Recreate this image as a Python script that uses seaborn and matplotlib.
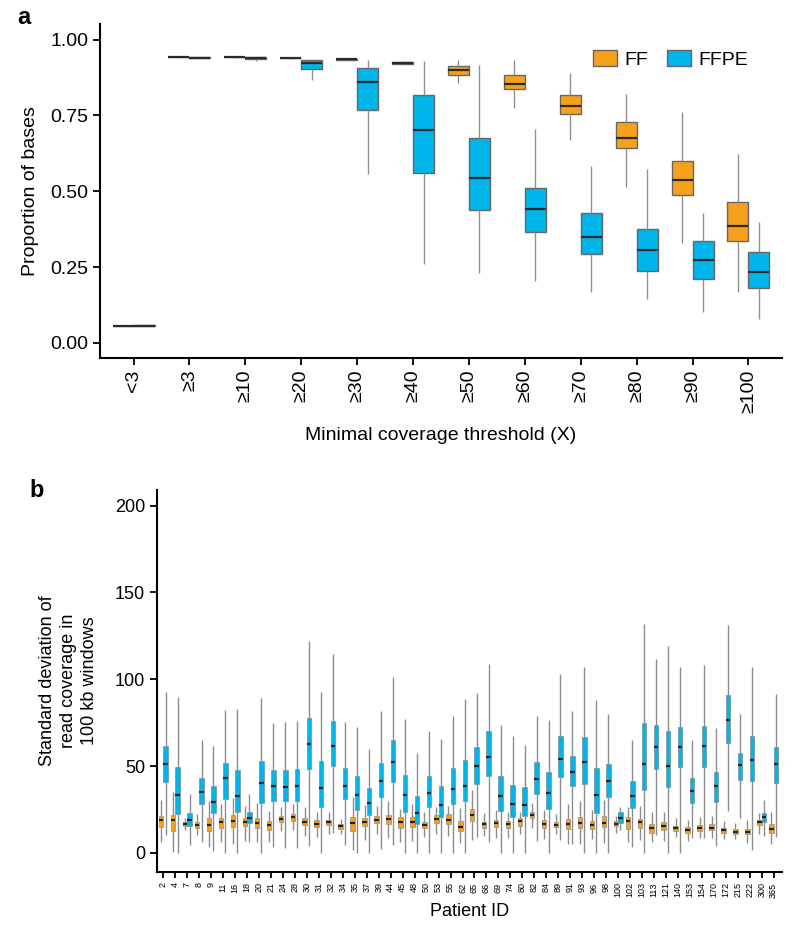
import pandas as pd
import seaborn as sns
import matplotlib.pyplot as plt

# panel a: proportion of bases above coverage threshold
# each box given as [whisker low, Q1, median, Q3, whisker high]
thresholds = ['<3', '≥3', '≥10', '≥20', '≥30', '≥40',
              '≥50', '≥60', '≥70', '≥80', '≥90', '≥100']
ff_a = [
    [0.054, 0.055, 0.055, 0.056, 0.056],
    [0.941, 0.942, 0.942, 0.943, 0.944],
    [0.940, 0.941, 0.941, 0.942, 0.943],
    [0.937, 0.938, 0.939, 0.940, 0.941],
    [0.932, 0.934, 0.935, 0.936, 0.938],
    [0.915, 0.920, 0.923, 0.925, 0.930],
    [0.856, 0.882, 0.898, 0.912, 0.933],
    [0.774, 0.837, 0.854, 0.882, 0.931],
    [0.670, 0.754, 0.782, 0.817, 0.889],
    [0.514, 0.642, 0.675, 0.728, 0.819],
    [0.329, 0.487, 0.538, 0.600, 0.761],
    [0.166, 0.336, 0.385, 0.464, 0.621],
]
ffpe_a = [
    [0.056, 0.057, 0.057, 0.058, 0.058],
    [0.938, 0.939, 0.940, 0.941, 0.942],
    [0.930, 0.935, 0.938, 0.941, 0.943],
    [0.868, 0.902, 0.924, 0.933, 0.936],
    [0.558, 0.766, 0.861, 0.905, 0.933],
    [0.261, 0.560, 0.703, 0.816, 0.929],
    [0.229, 0.439, 0.542, 0.676, 0.917],
    [0.204, 0.364, 0.442, 0.510, 0.704],
    [0.168, 0.294, 0.350, 0.428, 0.583],
    [0.143, 0.236, 0.307, 0.375, 0.572],
    [0.102, 0.209, 0.272, 0.336, 0.429],
    [0.077, 0.180, 0.233, 0.299, 0.399],
]

# panel b: SD of read coverage in 100 kb windows per patient
patient_ids = [2, 4, 7, 8, 9, 11, 16, 18, 20, 21, 24, 28, 30, 31, 32, 34, 35,
               37, 39, 44, 45, 48, 50, 53, 55, 62, 65, 66, 69, 74, 80, 82, 84,
               89, 91, 93, 96, 98, 100, 102, 103, 113, 121, 140, 153, 154, 170,
               172, 215, 222, 300, 365]
ff_b = [
    [6.5, 14.8, 18.7, 21.5, 30.6], [0.4, 12.7, 19.0, 21.9, 34.8],
    [13.3, 15.2, 16.7, 17.9, 20.0], [10.4, 14.6, 16.3, 17.7, 22.3],
    [3.3, 12.7, 16.3, 20.0, 30.0], [6.5, 14.2, 17.7, 20.0, 28.0],
    [5.0, 14.8, 18.3, 21.9, 31.5], [6.9, 15.2, 17.7, 20.0, 27.1],
    [6.5, 14.6, 17.3, 20.0, 28.7], [6.0, 13.3, 15.8, 18.1, 24.4],
    [12.7, 17.7, 19.4, 21.3, 26.2], [13.3, 18.1, 20.4, 22.3, 28.3],
    [9.8, 15.8, 17.7, 20.0, 26.2], [9.4, 14.8, 16.5, 18.7, 23.5],
    [10.8, 15.8, 17.5, 19.0, 23.3], [10.8, 13.8, 15.2, 16.5, 19.6],
    [1.7, 12.7, 17.1, 20.4, 31.9], [7.5, 15.2, 17.7, 20.0, 27.7],
    [10.8, 17.1, 19.0, 21.3, 27.1], [8.5, 16.5, 19.4, 21.9, 29.6],
    [6.0, 14.2, 17.5, 20.4, 25.4], [7.1, 14.8, 17.5, 20.4, 28.3],
    [9.0, 14.2, 16.2, 17.7, 23.3], [10.8, 17.1, 19.6, 21.9, 26.7],
    [9.8, 16.5, 19.0, 22.3, 27.1], [5.6, 12.7, 14.8, 18.1, 25.8],
    [7.5, 18.5, 21.9, 25.4, 36.0], [9.8, 14.6, 16.5, 17.7, 22.9],
    [8.5, 14.8, 17.1, 19.0, 24.8], [8.8, 14.6, 16.7, 18.5, 23.3],
    [11.0, 15.6, 18.1, 20.0, 23.5], [14.2, 20.0, 21.9, 23.8, 29.0],
    [7.9, 14.2, 16.5, 18.7, 24.8], [11.0, 14.8, 16.3, 17.7, 22.5],
    [5.0, 13.7, 16.5, 19.4, 28.3], [5.0, 14.2, 17.1, 20.4, 29.6],
    [7.9, 13.7, 16.2, 18.5, 24.8], [5.6, 14.8, 17.1, 21.3, 30.6],
    [11.7, 15.2, 16.7, 18.1, 21.3], [6.0, 13.7, 18.1, 20.4, 26.7],
    [7.5, 14.6, 17.5, 19.4, 27.1], [6.0, 11.7, 14.2, 16.7, 23.8],
    [6.9, 13.3, 15.6, 17.7, 23.5], [9.0, 12.7, 14.2, 15.6, 20.0],
    [6.9, 11.7, 13.3, 14.8, 18.7], [8.5, 12.7, 14.2, 15.8, 20.6],
    [8.5, 12.9, 14.6, 16.5, 21.3], [7.9, 11.7, 13.3, 14.6, 18.1],
    [7.9, 11.0, 12.3, 13.7, 17.1], [5.6, 10.8, 12.3, 13.8, 18.7],
    [10.8, 15.8, 17.5, 19.0, 22.9], [5.0, 11.7, 13.8, 16.5, 23.3],
]
ffpe_b = [
    [10.4, 40.8, 51.3, 61.3, 92.5], [0.0, 22.3, 33.1, 49.4, 89.8],
    [4.6, 15.6, 19.0, 23.0, 34.0], [6.5, 28.1, 35.2, 42.9, 64.8],
    [0.8, 22.9, 29.4, 38.7, 61.3], [0.2, 31.0, 42.9, 51.7, 82.5],
    [0.0, 23.3, 32.9, 47.5, 82.9], [6.0, 17.1, 20.2, 23.8, 34.0],
    [0.2, 29.0, 40.0, 53.1, 89.2], [3.3, 29.6, 38.3, 47.9, 74.8],
    [2.7, 29.6, 37.9, 47.9, 75.2], [2.7, 30.0, 38.8, 48.5, 75.8],
    [4.0, 48.3, 62.7, 77.7, 121.8], [0.2, 26.7, 37.3, 53.1, 92.4],
    [11.3, 49.8, 61.7, 75.8, 114.7], [4.6, 31.0, 38.8, 48.8, 75.4],
    [0.2, 24.8, 33.5, 44.0, 72.3], [0.2, 21.9, 28.7, 37.3, 60.0],
    [2.1, 31.9, 41.2, 51.7, 81.9], [4.6, 40.8, 52.1, 65.2, 101.4],
    [0.2, 23.5, 33.1, 45.0, 77.1], [0.2, 16.5, 22.9, 32.9, 57.5],
    [0.2, 26.2, 34.4, 44.0, 70.4], [0.2, 20.4, 27.7, 38.7, 65.6],
    [0.2, 28.3, 36.7, 48.8, 79.0], [0.2, 30.0, 38.8, 53.7, 88.8],
    [9.4, 39.8, 50.2, 60.8, 92.1], [6.0, 44.4, 55.0, 70.2, 108.5],
    [0.2, 24.4, 32.5, 44.4, 73.8], [0.2, 20.6, 28.1, 39.2, 67.1],
    [0.2, 21.0, 27.5, 37.7, 62.3], [7.1, 33.8, 42.7, 52.1, 78.7],
    [0.2, 25.4, 34.4, 46.3, 76.7], [7.5, 43.5, 54.0, 67.5, 103.3],
    [5.0, 38.3, 46.7, 55.6, 81.9], [0.2, 39.8, 52.3, 66.7, 107.1],
    [0.2, 22.9, 33.1, 48.8, 87.9], [0.2, 31.9, 41.2, 51.3, 80.2],
    [13.3, 17.1, 20.0, 23.3, 26.7], [3.3, 25.8, 32.9, 41.5, 64.8],
    [0.2, 36.3, 51.3, 74.8, 132.0], [10.4, 48.5, 60.8, 73.8, 111.8],
    [0.2, 37.7, 50.2, 70.4, 118.9], [0.2, 49.2, 60.8, 72.5, 106.8],
    [8.5, 28.7, 35.4, 43.1, 64.8], [8.8, 49.4, 61.7, 73.3, 108.4],
    [4.0, 29.2, 38.3, 46.5, 71.9], [24.2, 63.3, 76.7, 91.1, 131.4],
    [20.0, 42.1, 50.8, 57.5, 80.2], [1.7, 41.2, 53.7, 67.5, 107.0],
    [9.8, 17.5, 20.6, 22.9, 30.6], [9.4, 40.2, 51.3, 60.8, 91.5],
]

ORANGE = '#F5A11C'
BLUE = '#00B5E9'
palette = {'FF': ORANGE, 'FFPE': BLUE}


def to_long(labels, ff, ffpe, key):
    rows = []
    for lab, f, p in zip(labels, ff, ffpe):
        for v in f:
            rows.append((str(lab), 'FF', v))
        for v in p:
            rows.append((str(lab), 'FFPE', v))
    return pd.DataFrame(rows, columns=[key, 'sample', 'value'])


df_a = to_long(thresholds, ff_a, ffpe_a, 'threshold')
df_b = to_long(patient_ids, ff_b, ffpe_b, 'patient')

sns.set_style('ticks')
plt.rcParams['font.family'] = ['Liberation Sans', 'DejaVu Sans']
plt.rcParams['text.color'] = 'black'
plt.rcParams['axes.labelcolor'] = 'black'
plt.rcParams['xtick.color'] = 'black'
plt.rcParams['ytick.color'] = 'black'

fig = plt.figure(figsize=(8, 9.36), dpi=100)
ax_a = fig.add_axes([0.125, 0.6175, 0.8525, 0.3565])
ax_b = fig.add_axes([0.196, 0.0684, 0.7815, 0.4081])

box_kws = dict(hue='sample', palette=palette, saturation=1, width=0.75, gap=0,
               whis=(0, 100), showcaps=False, showfliers=False)

sns.boxplot(data=df_a, x='threshold', y='value', order=thresholds, ax=ax_a,
            linewidth=1.0,
            boxprops=dict(edgecolor='#666666', linewidth=1.0),
            whiskerprops=dict(color='#909090', linewidth=1.0),
            medianprops=dict(color='#2a2a2a', linewidth=1.6),
            **box_kws)

sns.boxplot(data=df_b, x='patient', y='value',
            order=[str(p) for p in patient_ids], ax=ax_b, legend=False,
            linewidth=0.8,
            boxprops=dict(edgecolor='#7a7a7a', linewidth=0.4),
            whiskerprops=dict(color='#8c8c8c', linewidth=1.0),
            medianprops=dict(color='#222222', linewidth=1.6),
            **box_kws)

# panel a styling
ax_a.set_xlim(-0.6, len(thresholds) - 0.4)
ax_a.set_ylim(-0.05, 1.05)
ax_a.set_yticks([0, 0.25, 0.5, 0.75, 1.0])
ax_a.set_yticklabels(['0.00', '0.25', '0.50', '0.75', '1.00'])
ax_a.tick_params(axis='x', labelrotation=90)
ax_a.set_xlabel('Minimal coverage threshold (X)', fontsize=14, labelpad=10)
ax_a.set_ylabel('Proportion of bases', fontsize=14, labelpad=8)
handles, labels = ax_a.get_legend_handles_labels()
ax_a.legend(handles, labels, loc='center left', bbox_to_anchor=(0.697, 0.895),
            ncol=2, frameon=False, fontsize=14, handlelength=1.25,
            handleheight=0.85, handletextpad=0.35, columnspacing=1.0)

# panel b styling
ax_b.set_xlim(-0.55, len(patient_ids) - 0.3)
ax_b.set_ylim(-11, 209)
ax_b.set_yticks([0, 50, 100, 150, 200])
ax_b.tick_params(axis='x', labelrotation=90, labelsize=6.5, length=4)
ax_b.set_xlabel('Patient ID', fontsize=13, labelpad=4)
ax_b.set_ylabel('Standard deviation of\nread coverage in\n100 kb windows',
                fontsize=13, labelpad=12, linespacing=1.3)

for ax in (ax_a, ax_b):
    sns.despine(ax=ax)
    for side in ('left', 'bottom'):
        ax.spines[side].set_linewidth(1.5)
        ax.spines[side].set_color('black')
    ax.tick_params(width=1.3, color='black')
ax_a.tick_params(axis='both', labelsize=14, length=5)
ax_b.tick_params(axis='y', labelsize=13, length=5)

fig.text(0.03, 0.981, 'a', fontsize=17, fontweight='bold', va='center', ha='center')
fig.text(0.046, 0.476, 'b', fontsize=17, fontweight='bold', va='center', ha='center')

fig.savefig('out.png', dpi=100)
